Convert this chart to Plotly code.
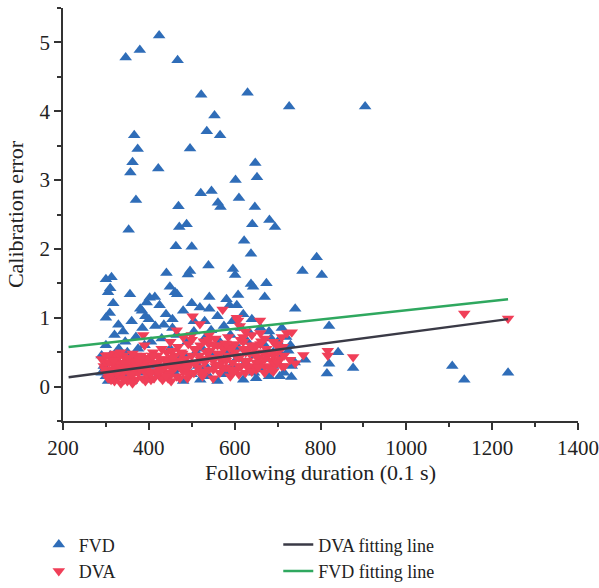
import plotly.graph_objects as go

# FVD (blue, triangle-up) points: x = following duration (0.1 s), y = calibration error
fvd_x = [346,379,424,467,522,630,727,904,
         553,366,535,566,374,496,362,357,422,648,652,602,
         370,469,521,546,561,567,610,647,681,694,641,353,471,488,622,463,500,
         638,791,758,803,539,596,601,496,491,441,300,313,305,310,317,309,300,356,449,461,466,638,643,674,670,402,414,500,519,541,541,581,588,608,605,741,820,841,820,815,876,732,733,764,1107,1135,1237,
         384,392,400,395,380,329,340,330,320,360,370,440,425,455,480,530,560,575,620,640,660,680,700,710,720,725,690,700,715,680,650,620,600,580,560,540,520,500,480,460,440,420,400,380,360,340,320,300,295,310,330,350,370,390,410,430,450,470,490,510,530,550,570,590,610,630,650,670,690,385,415,435,465,505,545,585,625,655,675,595,535,475,415,355,305,290,710,730,740,300,290,345,375,405,445,485,515,555,575,605,645,665,685,705,595,615,635,455,505,525,565]
fvd_y = [4.78,4.89,5.10,4.74,4.24,4.27,4.07,4.07,
         3.94,3.65,3.71,3.65,3.45,3.46,3.26,3.11,3.17,3.25,3.04,3.00,
         2.71,2.62,2.81,2.84,2.67,2.61,2.74,2.61,2.42,2.32,2.36,2.28,2.32,2.36,2.12,2.04,2.03,
         1.93,1.88,1.68,1.62,1.76,1.71,1.62,1.68,1.63,1.65,1.56,1.59,1.37,1.43,1.21,1.07,1.00,1.34,1.45,1.37,1.34,1.49,1.45,1.50,1.30,1.29,1.30,1.21,1.15,1.30,1.13,1.27,1.18,1.33,1.18,1.13,0.88,0.50,0.33,0.19,0.27,0.14,0.30,0.39,0.30,0.10,0.20,
         1.10,1.02,0.98,1.22,1.13,0.90,0.80,0.55,0.75,0.95,0.72,1.05,1.18,0.98,1.10,0.95,1.02,0.88,1.05,0.98,0.85,0.80,0.65,0.85,0.72,0.52,0.50,0.35,0.20,0.15,0.12,0.10,0.22,0.18,0.08,0.15,0.10,0.18,0.08,0.20,0.12,0.15,0.10,0.20,0.08,0.18,0.10,0.15,0.30,0.45,0.35,0.50,0.40,0.60,0.45,0.70,0.55,0.40,0.65,0.50,0.70,0.45,0.60,0.75,0.55,0.65,0.45,0.60,0.30,0.85,0.88,0.90,0.75,0.80,0.82,0.50,0.35,0.28,0.40,0.32,0.28,0.25,0.30,0.25,0.08,0.20,0.45,0.60,0.35,0.60,0.45,0.65,0.55,0.65,0.35,0.45,0.30,0.30,0.40,0.40,0.20,0.25,0.70,0.15,0.95,0.85,0.78,0.85,0.95,0.55,0.65]

# DVA (red, triangle-down) points
dva_x = [1135,1237,817,817,876,760,729,741,722,733,502,519,572,605,608,659,612,387,390,465,480,500,540,555,585,625,640,670,690,710,705,680,650,630,600,570,520,450,430,410,
         290,295,300,300,305,310,310,315,320,320,325,330,330,335,335,340,340,345,350,350,355,360,360,365,370,370,375,380,385,390,390,395,400,405,410,415,420,425,430,435,440,445,450,455,460,465,470,475,480,485,490,495,500,505,510,515,520,525,530,535,540,545,550,555,560,565,570,575,580,585,590,595,600,605,610,615,620,625,630,635,640,645,650,655,660,665,670,675,680,685,690,695,700,705,710,715,
         298,308,318,328,338,348,358,368,378,388,398,408,418,428,438,448,458,468,478,488,300,312,322,332,342,352,362,372,382,392,402,412,422,432,442,452,462,472,482,492,510,530,550,570,590,610,630,650,670,690,560,540,620,660,595,
         455,468,478,492,506,518,528,542,552,566,578,588,602,614,626,638,648,662,674,686,698,712,460,475,490,505,520,535,550,565,580,595,610,625,640,655,670,685,700,716,
         306,318,334,346,362,378,394,410,426,442,312,326,344,358,376,392,408,424,440,456,500,540,580,620,660,700]
dva_y = [1.06,0.99,0.52,0.45,0.43,0.46,0.39,0.34,0.78,0.79,1.02,0.91,1.12,1.00,0.96,0.96,0.88,0.75,0.60,0.82,0.72,0.68,0.75,0.70,0.72,0.80,0.75,0.70,0.65,0.72,0.55,0.50,0.60,0.55,0.62,0.58,0.60,0.65,0.55,0.50,
         0.40,0.30,0.20,0.35,0.12,0.25,0.42,0.18,0.30,0.08,0.40,0.15,0.25,0.05,0.35,0.20,0.45,0.12,0.30,0.08,0.22,0.38,0.15,0.28,0.10,0.45,0.20,0.32,0.12,0.25,0.42,0.18,0.30,0.10,0.35,0.22,0.45,0.15,0.30,0.40,0.20,0.12,0.35,0.25,0.45,0.15,0.30,0.50,0.22,0.40,0.12,0.32,0.45,0.20,0.55,0.28,0.40,0.15,0.35,0.50,0.25,0.42,0.12,0.30,0.48,0.20,0.38,0.55,0.28,0.45,0.15,0.35,0.50,0.25,0.42,0.30,0.55,0.20,0.38,0.48,0.30,0.55,0.25,0.42,0.35,0.50,0.30,0.45,0.28,0.38,0.45,0.32,0.50,0.40,0.30,0.45,
         0.25,0.35,0.22,0.32,0.28,0.40,0.10,0.33,0.26,0.35,0.40,0.22,0.32,0.25,0.28,0.18,0.33,0.38,0.30,0.25,0.45,0.10,0.48,0.45,0.10,0.42,0.05,0.30,0.45,0.08,0.20,0.12,0.28,0.10,0.38,0.08,0.28,0.12,0.40,0.18,0.35,0.22,0.38,0.28,0.25,0.18,0.28,0.35,0.20,0.22,0.60,0.62,0.65,0.62,0.58,
         0.52,0.58,0.48,0.62,0.55,0.45,0.66,0.52,0.60,0.48,0.63,0.56,0.45,0.68,0.50,0.60,0.46,0.66,0.55,0.50,0.60,0.58,0.30,0.38,0.28,0.35,0.22,0.40,0.25,0.32,0.38,0.20,0.30,0.36,0.22,0.28,0.40,0.25,0.35,0.30,
         0.46,0.38,0.50,0.33,0.48,0.40,0.36,0.44,0.40,0.50,0.16,0.20,0.28,0.18,0.36,0.30,0.45,0.20,0.15,0.42,0.75,0.68,0.62,0.72,0.78,0.62]

# Fitting lines (endpoints)
dva_fit_x = [213, 1237]
dva_fit_y = [0.136, 0.98]
fvd_fit_x = [213, 1237]
fvd_fit_y = [0.576, 1.27]

BLUE = "#2f6db8"
RED = "#f03f58"
GREEN = "#2fa85f"
DARK = "#3a3a46"
FONT = "Liberation Serif"
TXT = "#222222"

fig = go.Figure()
fig.add_trace(go.Scatter(x=fvd_x, y=fvd_y, mode="markers", name="FVD",
                         marker=dict(symbol="triangle-up", size=11, color=BLUE, line=dict(width=0)),
                         legend="legend"))
fig.add_trace(go.Scatter(x=dva_x, y=dva_y, mode="markers", name="DVA",
                         marker=dict(symbol="triangle-down", size=11, color=RED, line=dict(width=0)),
                         legend="legend"))
fig.add_trace(go.Scatter(x=dva_fit_x, y=dva_fit_y, mode="lines", name="DVA fitting line",
                         line=dict(color=DARK, width=2.5), legend="legend2"))
fig.add_trace(go.Scatter(x=fvd_fit_x, y=fvd_fit_y, mode="lines", name="FVD fitting line",
                         line=dict(color=GREEN, width=2.5), legend="legend2"))

axis_common = dict(showline=True, linecolor="#333333", linewidth=1.5, ticks="outside",
                   ticklen=7, tickwidth=1.5, tickcolor="#333333", showgrid=False, zeroline=False,
                   tickfont=dict(family=FONT, size=21, color=TXT),
                   mirror=False, automargin=False)

fig.update_xaxes(range=[200, 1400], dtick=200, tick0=200,
                 minor=dict(dtick=100, ticks="outside", ticklen=4, tickwidth=1.5, tickcolor="#333333"),
                 title=dict(text="Following duration (0.1 s)", font=dict(family=FONT, size=22, color=TXT), standoff=0),
                 **axis_common)
fig.update_yaxes(range=[-0.5, 5.5], dtick=1, tick0=0,
                 minor=dict(dtick=0.5, ticks="outside", ticklen=4, tickwidth=1.5, tickcolor="#333333"),
                 title=dict(text="Calibration error", font=dict(family=FONT, size=22, color=TXT), standoff=10),
                 **axis_common)

fig.update_layout(
    width=599, height=588,
    margin=dict(l=63, r=21, t=8, b=167, autoexpand=False),
    plot_bgcolor="white", paper_bgcolor="white",
    font=dict(family=FONT, size=20, color=TXT),
    legend=dict(x=-0.047, y=-0.255, xanchor="left", yanchor="top",
                orientation="v", font=dict(family=FONT, size=18, color=TXT), tracegroupgap=0,
                bgcolor="rgba(0,0,0,0)", itemsizing="trace"),
    legend2=dict(x=0.418, y=-0.255, xanchor="left", yanchor="top",
                 orientation="v", font=dict(family=FONT, size=18, color=TXT), tracegroupgap=0,
                 bgcolor="rgba(0,0,0,0)"),
    showlegend=True,
)

fig.write_html("out.html")
